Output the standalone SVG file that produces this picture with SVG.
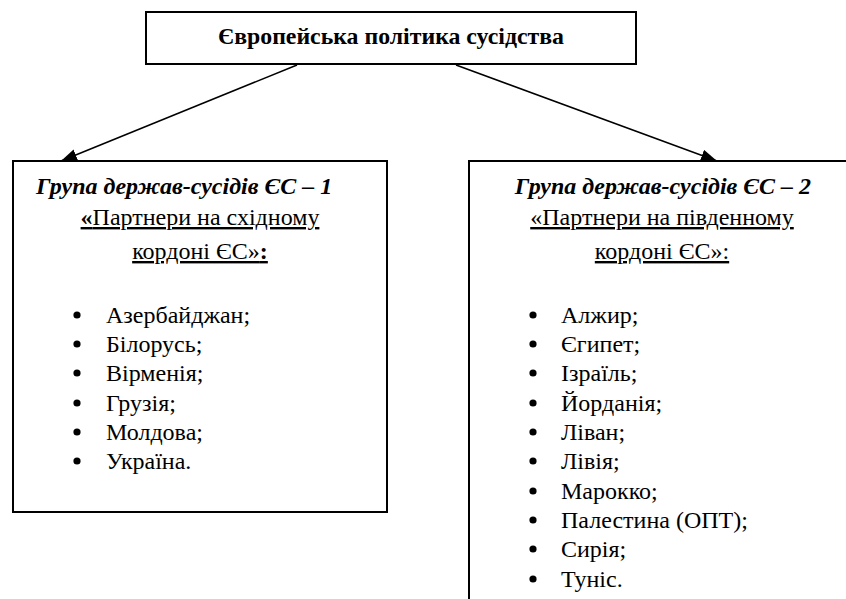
<svg xmlns="http://www.w3.org/2000/svg" width="846" height="599" viewBox="0 0 846 599">
<style>
  .box { fill: #fff; stroke: #000; stroke-width: 2; }
  .conn { stroke: #000; stroke-width: 1.5; fill: none; }
  text { font-family: "Liberation Serif", "Times New Roman", serif; fill: #000; }
  .title { font-size: 23.8px; font-weight: bold; }
  .head { font-size: 24px; font-weight: bold; font-style: italic; }
  .sub { font-size: 24px; text-decoration: underline; }
  .item { font-size: 24px; }
  .b { font-weight: bold; }
</style>
<defs>
  <marker id="arr" markerUnits="userSpaceOnUse" markerWidth="18" markerHeight="14" refX="16" refY="6" orient="auto">
    <path d="M0,0 L16,6 L0,12 Z" fill="#000"/>
  </marker>
  <circle id="dot" r="3.6" fill="#000"/>
</defs>
<rect width="846" height="599" fill="#fff"/>

<g id="connectors">
  <line class="conn" x1="297" y1="65" x2="61" y2="161" marker-end="url(#arr)"/>
  <line class="conn" x1="456" y1="65" x2="717" y2="161" marker-end="url(#arr)"/>
</g>

<g id="node-top">
  <rect class="box" x="146" y="12" width="490" height="52"/>
  <text class="title" x="391" y="44" text-anchor="middle">Європейська політика сусідства</text>
</g>

<g id="node-east">
  <rect class="box" x="13" y="161" width="374" height="351"/>
  <text class="head" x="36" y="194">Група держав-сусідів ЄС – 1</text>
  <text class="sub" x="200" y="225" text-anchor="middle"><tspan class="b">«</tspan>Партнери на східному</text>
  <text class="sub" x="200" y="259" text-anchor="middle">кордоні ЄС»<tspan class="b">:</tspan></text>
  <use href="#dot" x="77" y="315"/><text class="item" x="106" y="323">Азербайджан;</text>
  <use href="#dot" x="77" y="344"/><text class="item" x="106" y="352">Білорусь;</text>
  <use href="#dot" x="77" y="373"/><text class="item" x="106" y="381">Вірменія;</text>
  <use href="#dot" x="77" y="403"/><text class="item" x="106" y="411">Грузія;</text>
  <use href="#dot" x="77" y="432"/><text class="item" x="106" y="440">Молдова;</text>
  <use href="#dot" x="77" y="461"/><text class="item" x="106" y="469">Україна.</text>
</g>

<g id="node-south">
  <rect class="box" x="469" y="161" width="390" height="460"/>
  <text class="head" x="663" y="194" text-anchor="middle">Група держав-сусідів ЄС – 2</text>
  <text class="sub" x="662" y="225" text-anchor="middle">«Партнери на південному</text>
  <text class="sub" x="662" y="259" text-anchor="middle">кордоні ЄС»:</text>
  <use href="#dot" x="533" y="315"/><text class="item" x="561" y="323">Алжир;</text>
  <use href="#dot" x="533" y="344"/><text class="item" x="561" y="352">Єгипет;</text>
  <use href="#dot" x="533" y="373"/><text class="item" x="561" y="381">Ізраїль;</text>
  <use href="#dot" x="533" y="403"/><text class="item" x="561" y="411">Йорданія;</text>
  <use href="#dot" x="533" y="432"/><text class="item" x="561" y="440">Ліван;</text>
  <use href="#dot" x="533" y="461"/><text class="item" x="561" y="469">Лівія;</text>
  <use href="#dot" x="533" y="491"/><text class="item" x="561" y="499">Марокко;</text>
  <use href="#dot" x="533" y="520"/><text class="item" x="561" y="528">Палестина (ОПТ);</text>
  <use href="#dot" x="533" y="549"/><text class="item" x="561" y="557">Сирія;</text>
  <use href="#dot" x="533" y="579"/><text class="item" x="561" y="587">Туніс.</text>
</g>
</svg>
